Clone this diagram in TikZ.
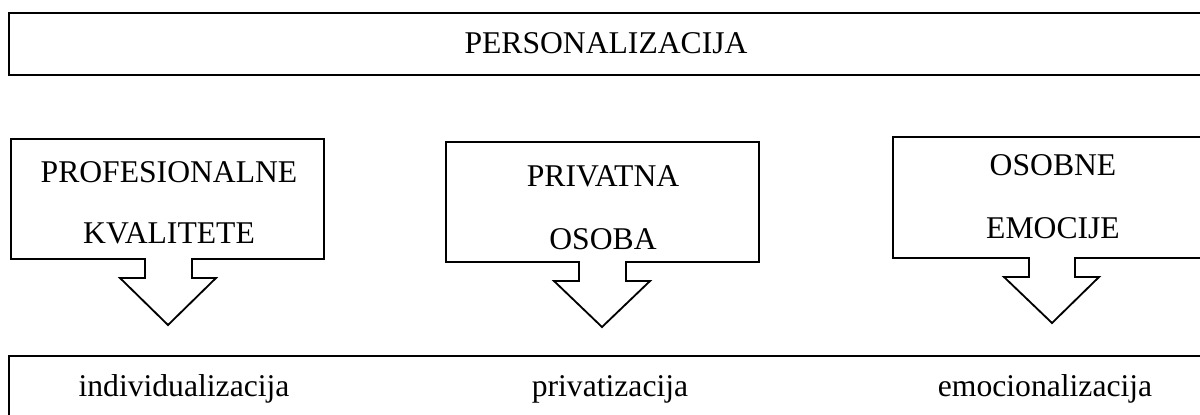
\documentclass[tikz,border=0pt]{standalone}
\usepackage{fontspec}
\setmainfont{Liberation Serif}
\usepackage{tikz}

\begin{document}
\begin{tikzpicture}[x=0.025cm, y=-0.025cm,
    word/.style={anchor=base, inner sep=0pt, font=\fontsize{22.5}{27}\selectfont},
    callout/.style={draw=black, line width=1.3pt, line join=miter},
    band/.style={draw=black, line width=1.1pt}]
  \useasboundingbox (0,0) rectangle (1200,414);
  \clip (0,0) rectangle (1200,414);
             % top and bottom bands run past the page edge
             \draw [band] (9,13) rectangle (1215,75);
             \draw [band] (9,356) rectangle (1215,440);
             \node [word] (personal) at (606,53) {PERSONALIZACIJA};
             % three callouts, box with arrow pointing down
             \draw [callout] (11,139) -- (324,139) -- (324,259) -- (192,259) -- (192,278) -- (216,278) -- (168,325) -- (120,278) -- (145,278) -- (145,259) -- (11,259) -- cycle;
             \draw [callout] (446,142) -- (759,142) -- (759,262) -- (626,262) -- (626,281) -- (650,281) -- (602,327) -- (554,281) -- (579,281) -- (579,262) -- (446,262) -- cycle;
             \draw [callout] (893,137) -- (1215,137) -- (1215,258) -- (1075,258) -- (1075,277) -- (1099,277) -- (1052,323) -- (1004,277) -- (1029,277) -- (1029,258) -- (893,258) -- cycle;
             \node [word] (prof) at (169,182) {PROFESIONALNE};
             \node [word] (kval) at (169,243) {KVALITETE};
             \node [word] (priv) at (603,186) {PRIVATNA};
             \node [word] (osoba) at (603,249) {OSOBA};
             \node [word] (osobne) at (1053,175) {OSOBNE};
             \node [word] (emoc) at (1053,238) {EMOCIJE};
             % results along the bottom band
             \node [word] (indiv) at (184,396) {individualizacija};
             \node [word] (privat) at (610,396) {privatizacija};
             \node [word] (emocion) at (1045,396) {emocionalizacija};
\end{tikzpicture}
\end{document}
